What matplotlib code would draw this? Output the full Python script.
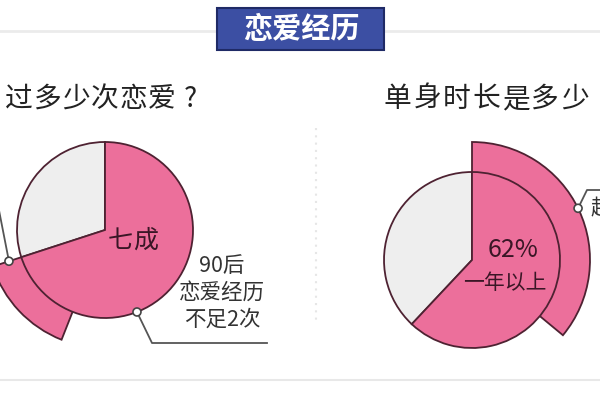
import matplotlib
matplotlib.use('Agg')
import matplotlib.pyplot as plt
from matplotlib.patches import Wedge, Circle, Rectangle
import numpy as np

plt.rcParams['font.family'] = ['Noto Sans CJK SC', 'DejaVu Sans']

# data (percent of whole)
title = '恋爱经历'
subtitles = ['过多少次恋爱?', '单身时长是多少']
pie_share = [70, 62]               # pink share of each pie
outer_span = [(56, 70), (0, 36)]   # highlighted sub-segment, cumulative %
center_labels = [['七成'], ['62%', '一年以上']]
callout_left = ['90后', '恋爱经历', '不足2次']
callout_right = '超过一年'

PINK = '#ec6f9b'
GRAY = '#eeeeee'
EDGE = '#4e2232'
INK = '#3a1626'

W, H = 600, 400
fig = plt.figure(figsize=(6, 4), dpi=100)
ax = fig.add_axes([0, 0, 1, 1])
ax.set_xlim(0, W)
ax.set_ylim(0, H)
ax.set_aspect('equal')
ax.axis('off')


def yy(y_img):
  return H - y_img


def ang(pct):
  """Clockwise from 12 o'clock, pct of the full circle -> math degrees."""
  return 90 - 360 * pct / 100


def spaced(x, y, s, pitch, **kw):
  for i, ch in enumerate(s):
    ax.text(x + pitch * (i + 0.5), y, ch, ha='center', va='center', **kw)


centers = [(105, yy(230)), (472, yy(260))]
R, R_OUT = 88, 118

for c, share, (s0, s1) in zip(centers, pie_share, outer_span):
  ax.add_patch(Wedge(c, R_OUT, ang(s1), ang(s0), fc=PINK, ec=EDGE, lw=1.3,
                     zorder=2))
  ax.add_patch(Wedge(c, R, 90, ang(share) + 360, fc=GRAY, ec=EDGE, lw=1.3,
                     zorder=3))
  ax.add_patch(Wedge(c, R, ang(share), 90, fc=PINK, ec=EDGE, lw=1.3,
                     zorder=3))

# header
ax.plot([0, 217], [yy(31)] * 2, color='#ebebeb', lw=2, zorder=1)
ax.plot([384, W], [yy(31)] * 2, color='#ebebeb', lw=2, zorder=1)
ax.add_patch(Rectangle((217, yy(50)), 167, 42, fc='#3c4fa3', ec='#1f2a66',
                       lw=1.5, zorder=2))
ax.text(301, yy(29), title, color='white', fontsize=21, fontweight='bold',
        ha='center', va='center', zorder=3)

spaced(5, yy(99), subtitles[0], 28.5, fontsize=20, color='#222222')
spaced(383, yy(99), subtitles[1], 29.5, fontsize=20, color='#222222')

# separators
ax.plot([0, W], [yy(380)] * 2, color='#e8e8e8', lw=1.5, zorder=1)
ax.plot([316, 316], [yy(128), yy(323)], color='#e6e6e6', lw=1.5,
        ls=(0, (1, 2.5)), zorder=1)

# center labels
spaced(107, yy(241), center_labels[0][0], 26, fontsize=18, color=INK,
       zorder=5)
ax.text(513, yy(250), center_labels[1][0], fontsize=18, color=INK,
        ha='center', va='center', zorder=5)
ax.text(505, yy(283), center_labels[1][1], fontsize=15, color=INK,
        ha='center', va='center', zorder=5)


def marker(x, y):
  ax.add_patch(Circle((x, y), 4, fc='white', ec='#444444', lw=1.2, zorder=6))


# left pie: callout at the bottom
cx, cy = centers[0]
a = np.radians(-68.7)
mx, my = cx + R * np.cos(a), cy + R * np.sin(a)
ax.plot([mx, 152, 267], [my, yy(343), yy(343)], color='#555555', lw=1.3,
        zorder=5)
marker(mx, my)
for i, line in enumerate(callout_left):
  ax.text(222, yy(266 + 27 * i), line, fontsize=15.5, color='#333333',
          ha='center', va='center')

# left pie: callout leaving the frame on the left
a = np.radians(ang(outer_span[0][1]))
mx, my = cx + 101 * np.cos(a), cy + 101 * np.sin(a)
ax.plot([mx, -3], [my, yy(200)], color='#555555', lw=1.3, zorder=5,
        clip_on=False)
marker(mx, my)

# right pie: callout on the outer segment (text runs off the frame)
cx, cy = centers[1]
a = np.radians(26)
mx, my = cx + R_OUT * np.cos(a), cy + R_OUT * np.sin(a)
ax.plot([mx, 587, 610], [my, yy(190), yy(190)], color='#555555', lw=1.3,
        zorder=5, clip_on=False)
marker(mx, my)
ax.text(590, yy(208), callout_right, fontsize=15, color='#333333',
        ha='left', va='center', clip_on=False)

fig.savefig('out.png', dpi=100)
